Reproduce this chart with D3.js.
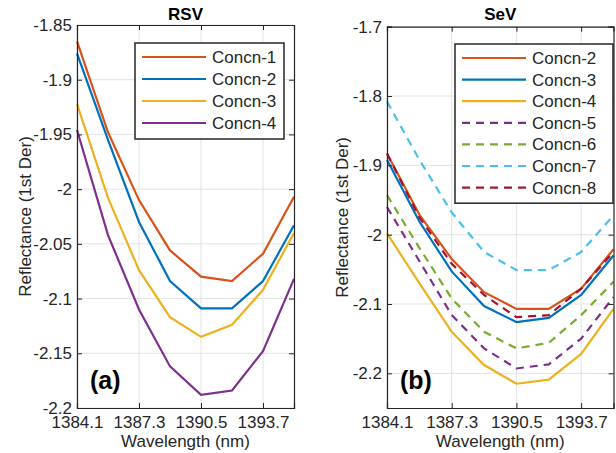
<!DOCTYPE html>
<html>
<head>
<meta charset="utf-8">
<script src="https://cdn.jsdelivr.net/npm/d3@7"></script>
<style>
  body { margin: 0; background: #fff; }
  svg text { font-family: "Liberation Sans", Arial, sans-serif; fill: #262626; }
</style>
</head>
<body>
<svg id="chart" width="616" height="453"></svg>
<script>
// Donnees
const wavelengths = [1384.1, 1385.7, 1387.3, 1388.9, 1390.5, 1392.1, 1393.7, 1395.3];
const xTickValues = [1384.1, 1387.3, 1390.5, 1393.7];

const rsvNames = ["Concn-1", "Concn-2", "Concn-3", "Concn-4"];
const rsvConcn1 = [-1.865, -1.948, -2.010, -2.056, -2.080, -2.084, -2.059, -2.007];
const rsvConcn2 = [-1.876, -1.955, -2.030, -2.084, -2.109, -2.109, -2.084, -2.033];
const rsvConcn3 = [-1.922, -2.008, -2.074, -2.117, -2.135, -2.124, -2.092, -2.040];
const rsvConcn4 = [-1.946, -2.042, -2.110, -2.162, -2.188, -2.184, -2.148, -2.082];
const rsvYTicks = [-1.85, -1.9, -1.95, -2, -2.05, -2.1, -2.15, -2.2];

const sevNames = ["Concn-2", "Concn-3", "Concn-4", "Concn-5", "Concn-6", "Concn-7", "Concn-8"];
const sevConcn2 = [-1.883, -1.971, -2.035, -2.083, -2.107, -2.107, -2.078, -2.021];
const sevConcn3 = [-1.892, -1.981, -2.053, -2.103, -2.126, -2.120, -2.087, -2.030];
const sevConcn4 = [-1.998, -2.070, -2.140, -2.188, -2.215, -2.209, -2.172, -2.107];
const sevConcn5 = [-1.960, -2.038, -2.116, -2.164, -2.193, -2.187, -2.150, -2.090];
const sevConcn6 = [-1.943, -2.019, -2.092, -2.140, -2.164, -2.156, -2.116, -2.068];
const sevConcn7 = [-1.808, -1.892, -1.968, -2.025, -2.051, -2.051, -2.025, -1.972];
const sevConcn8 = [-1.883, -1.975, -2.042, -2.087, -2.119, -2.116, -2.078, -2.025];
const sevYTicks = [-1.7, -1.8, -1.9, -2, -2.1, -2.2];

const colors = {
    orange: "#D95319", blue: "#0072BD", yellow: "#EDB120", purple: "#7E2F8E",
    green: "#77AC30", cyan: "#4DBEEE", red: "#A2142F"
};

const svg = d3.select("#chart");

// Dessin d'un panneau
function drawPanel(panel) {
    const g = svg.append("g");
    const xScale = d3.scaleLinear().domain([1384.1, 1395.3]).range([panel.left, panel.right]);
    const yScale = d3.scaleLinear().domain(panel.yDomain).range([panel.bottom, panel.top]);

    // grille
    g.selectAll(".vgrid").data(xTickValues).enter().append("line")
        .attr("x1", d => xScale(d)).attr("x2", d => xScale(d))
        .attr("y1", panel.top).attr("y2", panel.bottom)
        .attr("stroke", "#e3e3e3").attr("stroke-width", 1);
    g.selectAll(".hgrid").data(panel.yTicks).enter().append("line")
        .attr("x1", panel.left).attr("x2", panel.right)
        .attr("y1", d => yScale(d)).attr("y2", d => yScale(d))
        .attr("stroke", "#e3e3e3").attr("stroke-width", 1);

    // courbes
    const line = d3.line()
        .x((d, i) => xScale(wavelengths[i]))
        .y(d => yScale(d));
    panel.series.forEach(function(s) {
        g.append("path")
            .attr("d", line(s.values))
            .attr("fill", "none")
            .attr("stroke", s.color)
            .attr("stroke-width", 2.2)
            .attr("stroke-dasharray", s.dashed ? "8,6" : null);
    });

    // axes (ticks vers l'interieur, sur les quatre cotes)
    const tickLabel = d => panel.yLabels[panel.yTicks.indexOf(d)];
    g.append("g").attr("transform", "translate(0," + panel.bottom + ")")
        .call(d3.axisBottom(xScale).tickValues(xTickValues).tickSize(-5).tickPadding(8).tickFormat(d => d.toFixed(1)));
    g.append("g").attr("transform", "translate(0," + panel.top + ")")
        .call(d3.axisTop(xScale).tickValues(xTickValues).tickSize(-5).tickFormat(""));
    g.append("g").attr("transform", "translate(" + panel.left + ",0)")
        .call(d3.axisLeft(yScale).tickValues(panel.yTicks).tickSize(-5).tickPadding(5).tickFormat(tickLabel));
    g.append("g").attr("transform", "translate(" + panel.right + ",0)")
        .call(d3.axisRight(yScale).tickValues(panel.yTicks).tickSize(-5).tickFormat(""));
    g.selectAll(".domain").attr("stroke", "#262626").attr("stroke-width", 1.2);
    g.selectAll(".tick line").attr("stroke", "#262626");
    g.selectAll(".tick text").attr("font-size", 17).attr("fill", "#262626")
        .attr("font-family", "Liberation Sans, Arial, sans-serif");

    // titres et etiquettes
    g.append("text")
        .attr("x", (panel.left + panel.right) / 2).attr("y", 20)
        .attr("text-anchor", "middle").attr("font-size", 17).attr("font-weight", "bold")
        .style("fill", "#000")
        .text(panel.title);
    g.append("text")
        .attr("x", (panel.left + panel.right) / 2).attr("y", 447)
        .attr("text-anchor", "middle").attr("font-size", 17)
        .text("Wavelength (nm)");
    g.append("text")
        .attr("transform", "translate(" + panel.yLabelX + "," + ((panel.top + panel.bottom) / 2) + ") rotate(-90)")
        .attr("text-anchor", "middle").attr("font-size", 17)
        .text("Reflectance (1st Der)");
    g.append("text")
        .attr("x", panel.left + 13).attr("y", 389)
        .attr("font-size", 25).attr("font-weight", "bold")
        .style("fill", "#000")
        .text(panel.tag);

    // legende
    const lg = panel.legend;
    const legend = g.append("g").attr("transform", "translate(" + lg.x + "," + lg.y + ")");
    legend.append("rect")
        .attr("width", lg.width).attr("height", lg.rowHeight * panel.series.length + 8)
        .attr("fill", "#fff").attr("stroke", "#262626").attr("stroke-width", 1.5);
    panel.series.forEach(function(s, i) {
        const y = 14 + i * lg.rowHeight;
        legend.append("line")
            .attr("x1", 7).attr("x2", 71).attr("y1", y).attr("y2", y)
            .attr("stroke", s.color).attr("stroke-width", 2.2)
            .attr("stroke-dasharray", s.dashed ? "8,6" : null);
        legend.append("text")
            .attr("x", 77).attr("y", y + 6)
            .attr("font-size", 17)
            .text(s.name);
    });
}

drawPanel({
    title: "RSV", tag: "(a)",
    left: 77, right: 294, top: 25, bottom: 408, yLabelX: 31,
    yDomain: [-2.2, -1.85], yTicks: rsvYTicks,
    yLabels: ["-1.85", "-1.9", "-1.95", "-2", "-2.05", "-2.1", "-2.15", "-2.2"],
    series: [
        { name: rsvNames[0], values: rsvConcn1, color: colors.orange },
        { name: rsvNames[1], values: rsvConcn2, color: colors.blue },
        { name: rsvNames[2], values: rsvConcn3, color: colors.yellow },
        { name: rsvNames[3], values: rsvConcn4, color: colors.purple }
    ],
    legend: { x: 135, y: 43, width: 149, rowHeight: 22 }
});

drawPanel({
    title: "SeV", tag: "(b)",
    left: 387, right: 613.5, top: 26.7, bottom: 408, yLabelX: 348,
    yDomain: [-2.25, -1.7], yTicks: sevYTicks,
    yLabels: ["-1.7", "-1.8", "-1.9", "-2", "-2.1", "-2.2"],
    series: [
        { name: sevNames[0], values: sevConcn2, color: colors.orange },
        { name: sevNames[1], values: sevConcn3, color: colors.blue },
        { name: sevNames[2], values: sevConcn4, color: colors.yellow },
        { name: sevNames[3], values: sevConcn5, color: colors.purple, dashed: true },
        { name: sevNames[4], values: sevConcn6, color: colors.green, dashed: true },
        { name: sevNames[5], values: sevConcn7, color: colors.cyan, dashed: true },
        { name: sevNames[6], values: sevConcn8, color: colors.red, dashed: true }
    ],
    legend: { x: 455, y: 44, width: 158, rowHeight: 21.6 }
});
</script>
</body>
</html>
